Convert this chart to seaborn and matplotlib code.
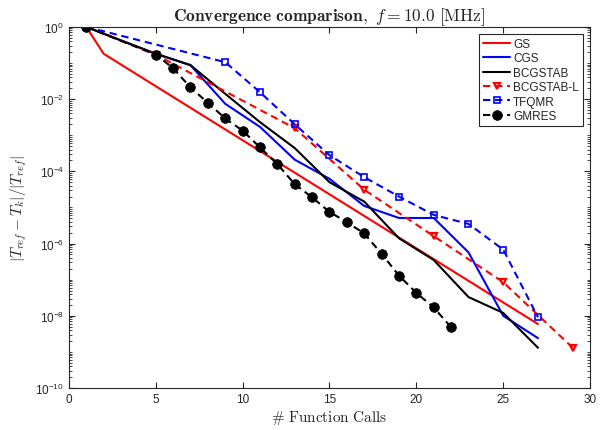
import numpy as np
import pandas as pd
import matplotlib
matplotlib.use("Agg")
import matplotlib.pyplot as plt
import matplotlib.ticker as mticker
import seaborn as sns

# Data
gs_x = [1, 2, 27]
gs_y = [1.0, 0.18, 5.9e-9]

cgs_x = [1, 3, 5, 7, 9, 11, 13, 15, 17, 19, 21, 23, 25, 27]
cgs_y = [1.0, 0.42, 0.18, 0.087, 7.4e-3, 1.7e-3, 2.1e-4, 6.2e-5, 1.1e-5,
         5.1e-6, 5.1e-6, 5.7e-7, 1.0e-8, 2.4e-9]

bcg_x = [1, 3, 5, 7, 9, 11, 13, 15, 17, 19, 21, 23, 25, 27]
bcg_y = [1.0, 0.42, 0.18, 0.087, 0.014, 2.3e-3, 4.4e-4, 5.0e-5, 1.45e-5,
         1.4e-6, 3.5e-7, 3.3e-8, 1.2e-8, 1.3e-9]

bcgl_x = [1, 5, 13, 17, 21, 25, 29]
bcgl_y = [1.0, 0.17, 1.56e-3, 3.1e-5, 1.6e-6, 8.5e-8, 1.3e-9]

tfq_x = [1, 9, 11, 13, 15, 17, 19, 21, 23, 25, 27]
tfq_y = [1.0, 0.105, 0.0155, 2.0e-3, 2.8e-4, 6.9e-5, 2.0e-5, 6.2e-6,
         3.5e-6, 6.8e-7, 9.1e-9]

gm_x = [1, 5, 6, 7, 8, 9, 10, 11, 12, 13, 14, 15, 16, 17, 18, 19, 20, 21, 22]
gm_y = [1.0, 0.17, 0.072, 0.021, 7.9e-3, 2.9e-3, 1.34e-3, 4.6e-4, 1.58e-4,
        4.4e-5, 1.9e-5, 7.5e-6, 3.9e-6, 1.9e-6, 5.2e-7, 1.3e-7, 4.3e-8,
        1.7e-8, 4.8e-9]

sns.set_style("ticks")
plt.rcParams['font.family'] = ['Liberation Sans', 'DejaVu Sans']
plt.rcParams['mathtext.fontset'] = 'cm'

fig = plt.figure(figsize=(6.04, 4.31), dpi=100)
ax = fig.add_axes([0.114, 0.0974, 0.863, 0.838])

red, blue = "#ff0000", "#0000ff"
dash = (3.5, 2.3)
series = [
    ("GS", gs_x, gs_y, dict(color=red)),
    ("CGS", cgs_x, cgs_y, dict(color=blue)),
    ("BCGSTAB", bcg_x, bcg_y, dict(color="black")),
    ("BCGSTAB-L", bcgl_x, bcgl_y, dict(color=red, dashes=dash, marker="v",
                                        markersize=5, markerfacecolor="none",
                                        markeredgecolor=red, markeredgewidth=1.6)),
    ("TFQMR", tfq_x, tfq_y, dict(color=blue, dashes=dash, marker="s",
                                  markersize=4.2, markerfacecolor="none",
                                  markeredgecolor=blue, markeredgewidth=1.2)),
    ("GMRES", gm_x, gm_y, dict(color="black", dashes=dash, marker="o",
                                markersize=7, markerfacecolor="black",
                                markeredgecolor="black", markeredgewidth=0.5)),
]

for name, xs, ys, style in series:
    df = pd.DataFrame({"x": xs, "y": ys})
    sns.lineplot(data=df, x="x", y="y", ax=ax, label=name, linewidth=1.5,
                 sort=False, estimator=None, **style)

ax.set_yscale("log")
ax.set_xlim(0, 30)
ax.set_ylim(1e-10, 1)
ax.set_xticks(np.arange(0, 31, 5))
ax.yaxis.set_major_locator(mticker.FixedLocator([10.0 ** k for k in range(-10, 1, 2)]))
ax.yaxis.set_minor_locator(mticker.LogLocator(base=10, subs=np.arange(1, 10), numticks=20))
ax.yaxis.set_minor_formatter(mticker.NullFormatter())

ax.tick_params(which="both", direction="in", top=True, right=True, labelsize=8.5,
               color="#262626", labelcolor="#262626")
ax.tick_params(which="major", length=4)
ax.tick_params(which="minor", length=2)
for sp in ax.spines.values():
    sp.set_color("#262626")
    sp.set_linewidth(0.8)

ax.set_title(r"$\mathbf{Convergence\ comparison},\ f = 10.0\ \mathrm{[MHz]}$",
             fontsize=12.5, pad=4)
ax.set_xlabel(r"$\#\ \mathrm{Function\ Calls}$", fontsize=11, labelpad=2)
ax.set_ylabel(r"$|T_{ref} - T_k|/|T_{ref}|$", fontsize=11, labelpad=4)

leg = ax.legend(loc="upper right", fontsize=8.5, fancybox=False, framealpha=1,
                edgecolor="#262626", handlelength=2.3, borderaxespad=0.6,
                labelspacing=0.2, handletextpad=0.25, borderpad=0.35)
leg.get_frame().set_linewidth(0.8)

fig.savefig("out.png", dpi=100)
